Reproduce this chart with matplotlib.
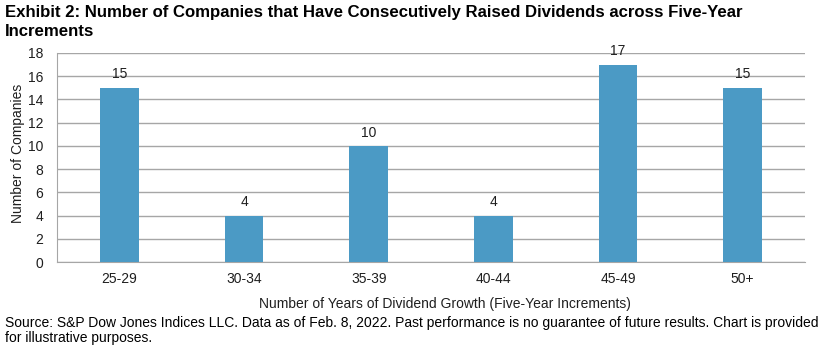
import matplotlib
matplotlib.use("Agg")
import matplotlib.pyplot as plt

categories = ["25-29", "30-34", "35-39", "40-44", "45-49", "50+"]
values = [15, 4, 10, 4, 17, 15]
yticks = [0, 2, 4, 6, 8, 10, 12, 14, 16, 18]

plt.rcParams['font.family'] = ['Liberation Sans', 'DejaVu Sans']

fig = plt.figure(figsize=(8.21, 3.52), dpi=100)
ax = fig.add_axes([57/821, 1-262/352, (805-57)/821, (262-53)/352])

x = list(range(len(categories)))
ax.bar(x, values, width=0.31, color='#4B9AC5', zorder=3)
for xi, v in zip(x, values):
    ax.text(xi, v + 0.55, str(v), ha='center', va='bottom', fontsize=10, color='#1f1f1f')

ax.set_xlim(-0.5, len(categories) - 0.5)
ax.set_ylim(0, 18)
ax.set_yticks(yticks)
ax.set_xticks(x)
ax.set_xticklabels(categories)
ax.tick_params(axis='both', length=0, labelsize=10, colors='#1f1f1f')
ax.tick_params(axis='y', pad=10)
ax.tick_params(axis='x', pad=7.5)
ax.yaxis.grid(True, color='#A6A6A6', linewidth=1, zorder=0)
for s in ['top', 'right']:
    ax.spines[s].set_visible(False)
ax.spines['left'].set_color('#A6A6A6')
ax.spines['bottom'].set_color('#A6A6A6')
ax.set_ylabel("Number of Companies", fontsize=10, color='#1f1f1f')
ax.yaxis.set_label_coords((25 - 57) / (805 - 57), (262 - 153) / (262 - 53))

fig.text(5/821, 1-12/352, "Exhibit 2: Number of Companies that Have Consecutively Raised Dividends across Five-Year",
         fontweight='bold', fontsize=12.1, va='center', ha='left', color='#000000')
fig.text(5/821, 1-31/352, "Increments",
         fontweight='bold', fontsize=12.1, va='center', ha='left', color='#000000')
fig.text(445/821, 1-304/352, "Number of Years of Dividend Growth (Five-Year Increments)",
         fontsize=10, va='center', ha='center', color='#1f1f1f')
fig.text(5/821, 1-323/352, "Source: S&P Dow Jones Indices LLC. Data as of Feb. 8, 2022. Past performance is no guarantee of future results. Chart is provided",
         fontsize=10, va='center', ha='left', color='#000000')
fig.text(5/821, 1-338/352, "for illustrative purposes.",
         fontsize=10, va='center', ha='left', color='#000000')

fig.savefig("out.png", dpi=100)
